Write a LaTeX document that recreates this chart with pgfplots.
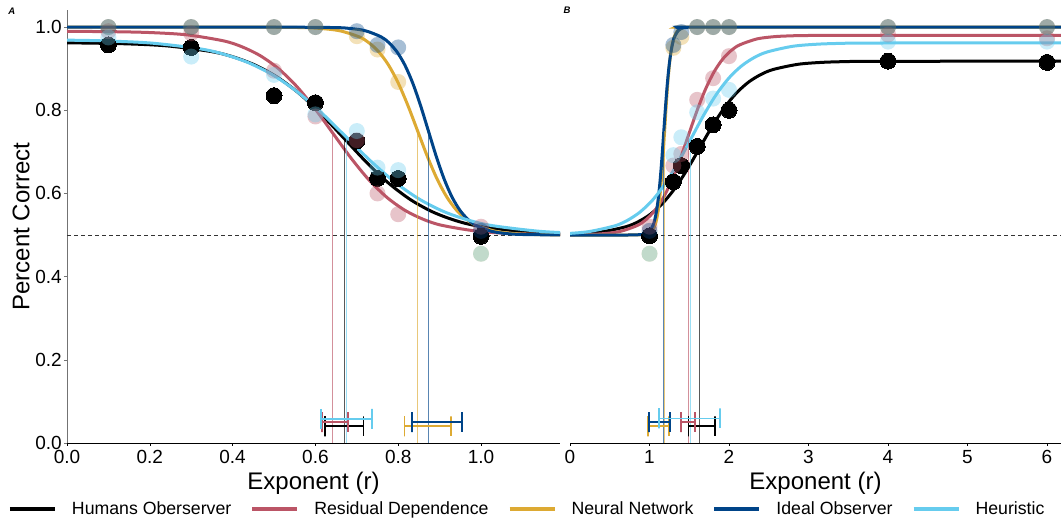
\documentclass[border=0pt]{standalone}
\usepackage{fontspec}
\setmainfont{Liberation Sans}
\usepackage{pgfplots}
\pgfplotsset{compat=1.18}
\definecolor{cHum}{HTML}{000000}
\definecolor{cRes}{HTML}{BB5566}
\definecolor{cNN}{HTML}{DDAA33}
\definecolor{cIO}{HTML}{004488}
\definecolor{cHeu}{HTML}{66CCEE}
\pgfplotsset{
  base/.style={scale only axis, height=433pt, ymin=0, ymax=1.041,
    axis x line*=bottom, xtick pos=left,
    axis line style={-},
    x axis line style={line width=0.7pt, black},
    tick align=outside, major tick length=3pt,
    tick style={line width=0.6pt, black},
    tick label style={font=\fontsize{19}{22}\selectfont, inner sep=0pt},
    xticklabel style={yshift=-4pt},
    xlabel={Exponent (r)},
    every axis x label/.style={at={(axis description cs:0.5,-0.0924)}, anchor=center, font=\fontsize{24}{28}\selectfont},
  },
  curve/.style={line width=3pt, color=#1, smooth, no markers},
  thr/.style={line width=1.2pt, color=#1, opacity=0.65, forget plot},
  ebar/.style={line width=1.8pt, color=#1, forget plot},
  mdots/.style={only marks, mark=*, mark size=8pt, color=#1, mark options={line width=0pt, draw opacity=0, fill=#1, fill opacity=0.35}, forget plot},
  hdots/.style={only marks, mark=*, mark size=8pt, color=black, mark options={line width=0pt, fill=black}, forget plot},
  dash05/.style={line width=0.8pt, black!80, dash pattern=on 4pt off 3pt, forget plot},
}
\begin{document}
\begin{tikzpicture}
\path[use as bounding box] (0pt,0pt) rectangle (1061pt,522pt);
% ---------------- Panel A ----------------
\begin{axis}[base, width=493pt, at={(67pt,79pt)}, anchor=south west,
  xmin=0, xmax=1.1908,
  axis y line*=left, ytick pos=left,
  y axis line style={line width=0.6pt, black!55},
  ytick={0,0.2,0.4,0.6,0.8,1.0}, yticklabels={0.0,0.2,0.4,0.6,0.8,1.0},
  ytick style={black!55},
  yticklabel style={xshift=-2pt},
  xtick={0,0.2,0.4,0.6,0.8,1.0}, xticklabels={0.0,0.2,0.4,0.6,0.8,1.0},
  ylabel={Percent Correct},
  every axis y label/.style={at={(axis description cs:-0.0933,0.5)}, rotate=90, anchor=center, font=\fontsize{24}{28}\selectfont},
  legend columns=5,
  legend style={draw=none, fill=none, at={(axis description cs:-0.1197,-0.1524)}, anchor=west,
    inner sep=0pt, outer sep=0pt, font=\fontsize{17.7}{20}\selectfont,
    nodes={inner sep=0pt},
    /tikz/every odd column/.style={column sep=15pt},
    /tikz/every even column/.style={column sep=19pt}},
  legend image code/.code={\draw[#1, line width=4pt, opacity=1] (0pt,0pt) -- (45pt,0pt);},
]
\addplot[dash05] coordinates {(0,0.5) (1.2,0.5)};
\addplot[curve=cHum] coordinates {(0,0.9621) (0.135,0.9599) (0.242,0.9547) (0.349,0.9410) (0.4025,0.9279) (0.456,0.9078) (0.5095,0.8785) (0.563,0.8385) (0.6165,0.7882) (0.67,0.7315) (0.7235,0.6748) (0.777,0.6245) (0.8305,0.5845) (0.884,0.5552) (0.9375,0.5351) (0.991,0.5220) (1.098,0.5083) (1.205,0.5031)};
\addlegendentry{Humans Oberserver}
\addplot[curve=cRes] coordinates {(0,0.9897) (0.114,0.9888) (0.202,0.9867) (0.29,0.9812) (0.378,0.9668) (0.422,0.9528) (0.466,0.9316) (0.51,0.9006) (0.554,0.8582) (0.598,0.8050) (0.642,0.745) (0.686,0.6850) (0.73,0.6318) (0.774,0.5894) (0.818,0.5584) (0.862,0.5372) (0.906,0.5232) (0.994,0.5088) (1.082,0.5033) (1.17,0.5012) (1.2,0.5010)};
\addlegendentry{Residual Dependence}
\addplot[curve=cNN] coordinates {(0,1.0) (0.3,1.0) (0.45,0.9999) (0.565,0.99877) (0.612,0.99666) (0.659,0.99101) (0.706,0.97629) (0.7295,0.96207) (0.753,0.9404) (0.7765,0.90879) (0.8,0.86553) (0.8235,0.81123) (0.847,0.75) (0.8705,0.68877) (0.894,0.63447) (0.9175,0.59122) (0.941,0.5596) (0.9645,0.53793) (0.988,0.52372) (1.035,0.509) (1.082,0.50335) (1.129,0.50124) (1.2,0.5003)};
\addlegendentry{Neural Network}
\addplot[curve=cIO] coordinates {(0,1.0) (0.3,1.0) (0.5,0.99995) (0.645,0.99877) (0.683,0.99666) (0.721,0.99101) (0.759,0.97629) (0.778,0.96207) (0.797,0.9404) (0.816,0.90879) (0.835,0.86553) (0.854,0.81123) (0.873,0.75) (0.892,0.68877) (0.911,0.63447) (0.93,0.59122) (0.949,0.5596) (0.968,0.53793) (0.987,0.52372) (1.025,0.509) (1.063,0.50335) (1.101,0.50124) (1.2,0.5001)};
\addlegendentry{Ideal Observer}
\addplot[curve=cHeu] coordinates {(0,0.9685) (0.085,0.9669) (0.203,0.9615) (0.321,0.9477) (0.38,0.9343) (0.439,0.9140) (0.498,0.8843) (0.557,0.8436) (0.616,0.7926) (0.675,0.735) (0.734,0.6774) (0.793,0.6264) (0.852,0.5857) (0.911,0.5560) (0.97,0.5357) (1.029,0.5223) (1.147,0.5085) (1.265,0.5031)};
\addlegendentry{Heuristic}
% thresholds
\addplot[thr=cHum] coordinates {(0.670,0) (0.670,0.7315)};
\addplot[thr=cRes] coordinates {(0.642,0) (0.642,0.745)};
\addplot[thr=cNN] coordinates {(0.8475,0) (0.8475,0.75)};
\addplot[thr=cIO] coordinates {(0.873,0) (0.873,0.75)};
\addplot[thr=cHeu] coordinates {(0.675,0) (0.675,0.735)};
% error bars
\addplot[ebar=cHum] coordinates {(0.623,0.064) (0.623,0.016) (0.623,0.04) (0.716,0.04) (0.716,0.064) (0.716,0.016)};
\addplot[ebar=cRes] coordinates {(0.615,0.074) (0.615,0.026) (0.615,0.05) (0.678,0.05) (0.678,0.074) (0.678,0.026)};
\addplot[ebar=cNN] coordinates {(0.815,0.064) (0.815,0.016) (0.815,0.04) (0.927,0.04) (0.927,0.064) (0.927,0.016)};
\addplot[ebar=cIO] coordinates {(0.833,0.074) (0.833,0.026) (0.833,0.05) (0.955,0.05) (0.955,0.074) (0.955,0.026)};
\addplot[ebar=cHeu] coordinates {(0.614,0.082) (0.614,0.034) (0.614,0.058) (0.737,0.058) (0.737,0.082) (0.737,0.034)};
% points
\addplot[hdots] coordinates {(0.1,0.957) (0.3,0.951) (0.5,0.835) (0.6,0.818) (0.7,0.726) (0.75,0.636) (0.8,0.636) (1.0,0.497)};
\addplot[mdots=cRes] coordinates {(0.1,0.99) (0.3,0.985) (0.5,0.895) (0.6,0.785) (0.7,0.728) (0.75,0.60) (0.8,0.55) (1.0,0.52)};
\addplot[mdots=cNN] coordinates {(0.1,1.0) (0.3,1.0) (0.5,1.0) (0.6,1.0) (0.7,0.978) (0.75,0.946) (0.8,0.868) (1.0,0.455)};
\addplot[mdots=cIO] coordinates {(0.1,1.0) (0.3,1.0) (0.5,1.0) (0.6,1.0) (0.7,0.99) (0.75,0.957) (0.8,0.951) (1.0,0.51)};
\addplot[mdots=cHeu] coordinates {(0.1,0.975) (0.3,0.929) (0.5,0.885) (0.6,0.79) (0.7,0.75) (0.75,0.662) (0.8,0.656) (1.0,0.455)};
\end{axis}
% ---------------- Panel B ----------------
\begin{axis}[base, width=491pt, at={(570pt,79pt)}, anchor=south west,
  xmin=0, xmax=6.176,
  hide y axis,
  xtick={0,1,2,3,4,5,6}, xticklabels={0,1,2,3,4,5,6},
]
\addplot[dash05] coordinates {(0,0.5) (6.2,0.5)};
\addplot[curve=cHum] coordinates {(0,0.5022) (0.39,0.5075) (0.70,0.5198) (0.855,0.5317) (1.01,0.5498) (1.165,0.5763) (1.32,0.6124) (1.475,0.6578) (1.63,0.709) (1.785,0.7602) (1.94,0.8056) (2.095,0.8417) (2.25,0.8682) (2.405,0.8863) (2.56,0.8982) (2.87,0.9105) (3.18,0.9152) (3.49,0.9170) (3.80,0.9176) (6.2,0.918)};
\addplot[curve=cRes] coordinates {(0,0.5005) (0.2,0.5012) (0.415,0.5032) (0.63,0.5086) (0.845,0.5228) (0.9525,0.5364) (1.06,0.5572) (1.1675,0.5876) (1.275,0.6291) (1.3825,0.6812) (1.49,0.74) (1.5975,0.7988) (1.705,0.8509) (1.8125,0.8924) (1.92,0.9228) (2.0275,0.9436) (2.135,0.9572) (2.35,0.9714) (2.565,0.9768) (2.78,0.9788) (3.2,0.9798) (6.2,0.98)};
\addplot[curve=cNN] coordinates {(0,0.5) (0.7,0.5) (0.95,0.50124) (0.99,0.50335) (1.03,0.509) (1.07,0.52372) (1.09,0.53793) (1.11,0.5596) (1.13,0.59122) (1.15,0.63447) (1.17,0.68877) (1.19,0.75) (1.21,0.81123) (1.23,0.86553) (1.25,0.90879) (1.27,0.9404) (1.29,0.96207) (1.31,0.97629) (1.35,0.99101) (1.39,0.99666) (1.43,0.99877) (1.7,1.0) (6.2,1.0)};
\addplot[curve=cIO] coordinates {(0,0.5) (0.7,0.5) (0.91,0.50124) (0.955,0.50335) (1.0,0.509) (1.045,0.52372) (1.0675,0.53793) (1.09,0.5596) (1.1125,0.59122) (1.135,0.63447) (1.1575,0.68877) (1.18,0.75) (1.2025,0.81123) (1.225,0.86553) (1.2475,0.90879) (1.27,0.9404) (1.2925,0.96207) (1.315,0.97629) (1.36,0.99101) (1.405,0.99666) (1.45,0.99877) (1.7,1.0) (6.2,1.0)};
\addplot[curve=cHeu] coordinates {(0,0.5040) (0.24,0.5083) (0.56,0.5219) (0.72,0.5350) (0.88,0.5551) (1.04,0.5843) (1.2,0.6243) (1.36,0.6744) (1.52,0.731) (1.68,0.7876) (1.84,0.8378) (2.0,0.8777) (2.16,0.9069) (2.32,0.9270) (2.48,0.9401) (2.8,0.9537) (3.12,0.9589) (3.44,0.9609) (3.76,0.9616) (6.2,0.962)};
% thresholds
\addplot[thr=cHum] coordinates {(1.63,0) (1.63,0.709)};
\addplot[thr=cRes] coordinates {(1.49,0) (1.49,0.74)};
\addplot[thr=cNN] coordinates {(1.19,0) (1.19,0.75)};
\addplot[thr=cIO] coordinates {(1.18,0) (1.18,0.75)};
\addplot[thr=cHeu] coordinates {(1.52,0) (1.52,0.731)};
% error bars
\addplot[ebar=cHum] coordinates {(1.49,0.064) (1.49,0.016) (1.49,0.04) (1.82,0.04) (1.82,0.064) (1.82,0.016)};
\addplot[ebar=cRes] coordinates {(1.396,0.074) (1.396,0.026) (1.396,0.05) (1.572,0.05) (1.572,0.074) (1.572,0.026)};
\addplot[ebar=cNN] coordinates {(0.977,0.064) (0.977,0.016) (0.977,0.04) (1.245,0.04) (1.245,0.064) (1.245,0.016)};
\addplot[ebar=cIO] coordinates {(0.998,0.074) (0.998,0.026) (0.998,0.05) (1.258,0.05) (1.258,0.074) (1.258,0.026)};
\addplot[ebar=cHeu] coordinates {(1.115,0.083) (1.115,0.035) (1.115,0.059) (1.887,0.059) (1.887,0.083) (1.887,0.035)};
% points
\addplot[hdots] coordinates {(1.0,0.498) (1.3,0.628) (1.4,0.667) (1.6,0.713) (1.8,0.765) (2.0,0.80) (4.0,0.918) (6.0,0.915)};
\addplot[mdots=cRes] coordinates {(1.0,0.52) (1.3,0.667) (1.4,0.695) (1.6,0.825) (1.8,0.877) (2.0,0.93) (4.0,0.982) (6.0,0.973)};
\addplot[mdots=cNN] coordinates {(1.0,0.455) (1.3,0.95) (1.4,0.976) (1.6,1.0) (1.8,1.0) (2.0,1.0) (4.0,1.0) (6.0,1.0)};
\addplot[mdots=cIO] coordinates {(1.0,0.51) (1.3,0.957) (1.4,0.988) (1.6,1.0) (1.8,1.0) (2.0,1.0) (4.0,1.0) (6.0,1.0)};
\addplot[mdots=cHeu] coordinates {(1.0,0.455) (1.3,0.692) (1.4,0.735) (1.6,0.795) (1.8,0.828) (2.0,0.849) (4.0,0.965) (6.0,0.965)};
\end{axis}
\node[font=\bfseries\itshape\fontsize{9.5}{11}\selectfont] at (11.7pt,510.3pt) {A};
\node[font=\bfseries\itshape\fontsize{9.5}{11}\selectfont] at (567pt,511.5pt) {B};
\end{tikzpicture}
\end{document}
